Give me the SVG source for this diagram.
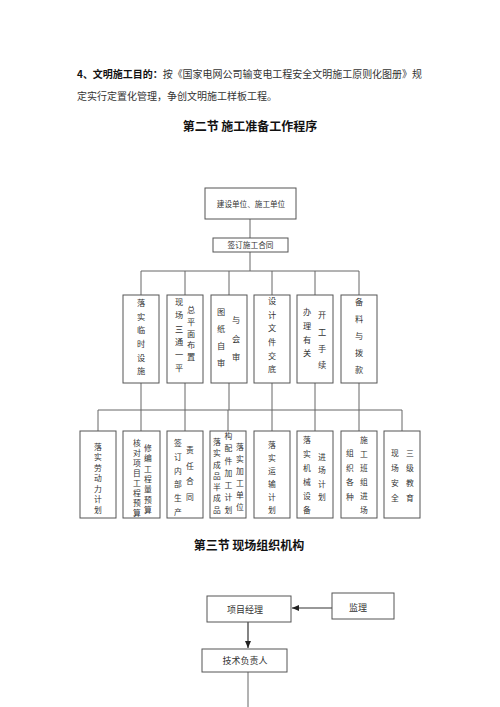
<svg xmlns="http://www.w3.org/2000/svg" width="500" height="707" viewBox="0 0 500 707">
<style>
.t{font-family:"Noto Sans CJK SC","Noto Sans",sans-serif;fill:#333}
.h{font-family:"Noto Sans CJK SC","Noto Sans",sans-serif;font-weight:bold;fill:#111}
.b{fill:#fff;stroke:#555;stroke-width:1}
.l{stroke:#666;stroke-width:1;fill:none}
.v{font-family:"Noto Sans CJK SC",sans-serif;writing-mode:vertical-rl;fill:#333}
.v1{font-size:8.2px}
.v2{font-size:7.8px}
</style>
<defs>
<marker id="ah" markerWidth="8" markerHeight="8" refX="7" refY="4" orient="auto" markerUnits="userSpaceOnUse">
<path d="M0,1 L7,4 L0,7 Z" fill="#222"/>
</marker>
</defs>
<rect width="500" height="707" fill="#fff"/>
<text class="t" x="77" y="78" font-size="10" textLength="345" lengthAdjust="spacing"><tspan class="h">4、文明施工目的：</tspan>按《国家电网公司输变电工程安全文明施工原则化图册》规</text>
<text class="t" x="77" y="99.5" font-size="10">定实行定置化管理，争创文明施工样板工程。</text>
<text class="h" x="250" y="131" font-size="12" text-anchor="middle">第二节  施工准备工作程序</text>
<text class="h" x="249" y="549.5" font-size="12" text-anchor="middle">第三节  现场组织机构</text>

<g id="connectors">
<path class="l" d="M250,219 V238 M250,252 V271 M141,271 H359 M141,271 V295 M185,271 V295 M229,271 V295 M272,271 V295 M315,271 V295 M359,271 V295"/>
<path class="l" d="M141,383 V410 M185,383 V410 M229,383 V410 M272,383 V410 M315,383 V410 M359,383 V410 M98,410 H402 M98,410 V431 M141,410 V431 M185,410 V431 M228,410 V431 M272,410 V431 M315,410 V431 M359,410 V431 M402,410 V431"/>
<path d="M332,608 H292" stroke="#333" stroke-width="1.2" marker-end="url(#ah)"/>
<path d="M248,622 V648" stroke="#333" stroke-width="1.2" marker-end="url(#ah)"/>
<path class="l" d="M248,672 V707" stroke="#888"/>
</g>

<g id="n-top"><rect class="b" x="205" y="188" width="91" height="31"/><text class="t" x="251" y="206.5" font-size="7.6" text-anchor="middle">建设单位、施工单位</text></g>
<g id="n-contract"><rect class="b" x="213" y="238" width="75" height="14"/><text class="t" x="250.5" y="248.3" font-size="7.7" text-anchor="middle">签订施工合同</text></g>

<g id="r1-1"><rect class="b" x="123" y="295" width="36" height="88"/><text class="v v1" x="141" y="298.9" letter-spacing="5.4">落实临时设施</text></g>
<g id="r1-2"><rect class="b" x="167" y="295" width="36" height="88"/><text class="v v1" x="179" y="297.9" letter-spacing="5">现场三通一平</text><text class="v v1" x="191" y="305.9" letter-spacing="3.55">总平面布置</text></g>
<g id="r1-3"><rect class="b" x="211" y="295" width="36" height="88"/><text class="v v1" x="221" y="307.9" letter-spacing="8.8">图纸自审</text><text class="v v1" x="236" y="315.9" letter-spacing="10.3">与会审</text></g>
<g id="r1-4"><rect class="b" x="254" y="295" width="36" height="88"/><text class="v v1" x="272" y="296.9" letter-spacing="5.4">设计文件交底</text></g>
<g id="r1-5"><rect class="b" x="297" y="295" width="36" height="88"/><text class="v v1" x="307" y="307.9" letter-spacing="5.5">办理有关</text><text class="v v1" x="322" y="310.9" letter-spacing="8.5">开工手续</text></g>
<g id="r1-6"><rect class="b" x="341" y="295" width="36" height="88"/><text class="v v1" x="359" y="297.9" letter-spacing="8.8">备料与拨款</text></g>

<g id="r2-1"><rect class="b" x="80" y="431" width="36" height="87"/><text class="v v2" x="98" y="443.1" letter-spacing="2.7">落实劳动力计划</text></g>
<g id="r2-2"><rect class="b" x="123" y="431" width="37" height="87"/><text class="v v2" x="137" y="439.1" letter-spacing="2.2">核对项目工程预算</text><text class="v v2" x="148" y="444.1" letter-spacing="2.53">修编工程量预算</text></g>
<g id="r2-3"><rect class="b" x="167" y="431" width="36" height="87"/><text class="v v2" x="178" y="439.1" letter-spacing="6">签订内部生产</text><text class="v v2" x="190" y="446.1" letter-spacing="7.9">责任合同</text></g>
<g id="r2-4"><rect class="b" x="210" y="431" width="36" height="87"/><text class="v v2" x="217" y="438.1" letter-spacing="3.5">落实成品半成品</text><text class="v v2" x="228.5" y="432.1" letter-spacing="4.5">构配件加工计划</text><text class="v v2" x="240" y="443.1" letter-spacing="4.2">落实加工单位</text></g>
<g id="r2-5"><rect class="b" x="254" y="431" width="36" height="87"/><text class="v v2" x="272" y="441.1" letter-spacing="5.2">落实运输计划</text></g>
<g id="r2-6"><rect class="b" x="297" y="431" width="36" height="87"/><text class="v v2" x="307" y="436.1" letter-spacing="6.2">落实机械设备</text><text class="v v2" x="322" y="453.1" letter-spacing="5.5">进场计划</text></g>
<g id="r2-7"><rect class="b" x="341" y="431" width="36" height="87"/><text class="v v2" x="350" y="449.1" letter-spacing="6.9">组织各种</text><text class="v v2" x="364" y="436.1" letter-spacing="6.2">施工班组进场</text></g>
<g id="r2-8"><rect class="b" x="384" y="431" width="36" height="87"/><text class="v v2" x="395" y="449.1" letter-spacing="7.2">现场安全</text><text class="v v2" x="410" y="449.1" letter-spacing="7.2">三级教育</text></g>

<g id="n-pm"><rect class="b" x="207" y="596" width="84" height="26"/><text class="t" x="245" y="613" font-size="9" text-anchor="middle">项目经理</text></g>
<g id="n-sup"><rect class="b" x="332" y="593" width="62" height="26"/><text class="t" x="358" y="611" font-size="9" text-anchor="middle">监理</text></g>
<g id="n-tech"><rect class="b" x="202" y="649" width="85" height="23"/><text class="t" x="245" y="664" font-size="9" text-anchor="middle">技术负责人</text></g>
</svg>
